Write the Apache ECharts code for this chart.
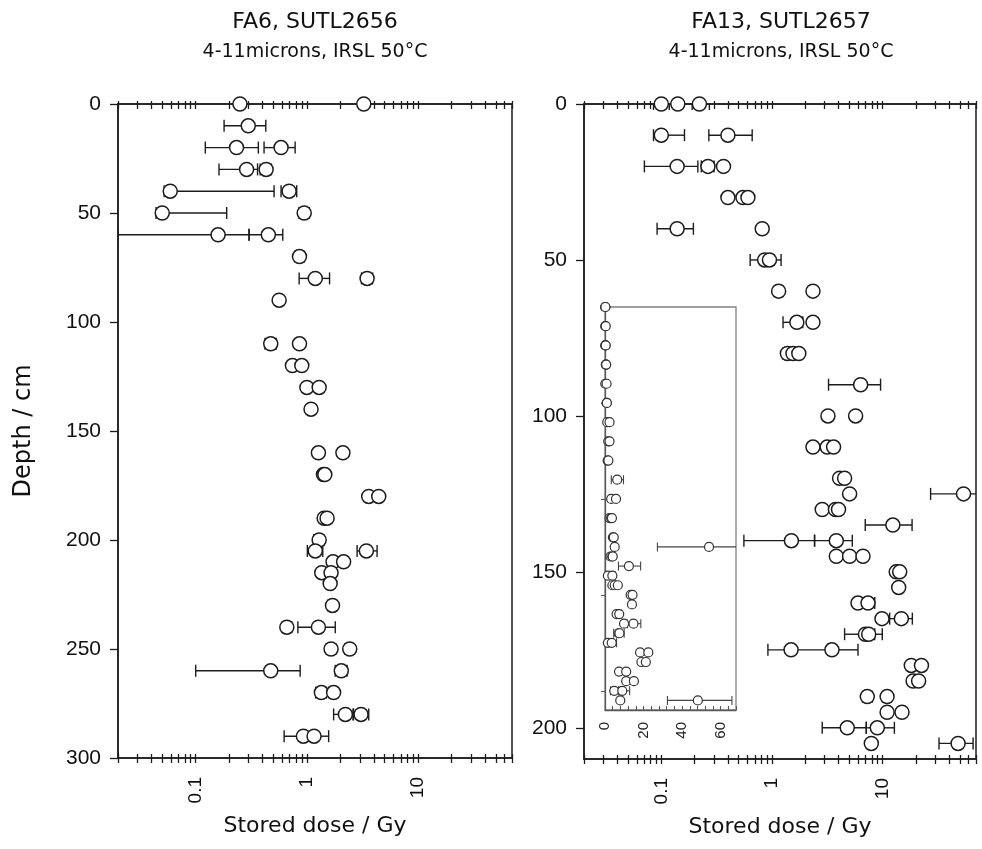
<!DOCTYPE html>
<html>
<head>
<meta charset="utf-8">
<script src="https://cdn.jsdelivr.net/npm/echarts@6/dist/echarts.min.js"></script>
<style>html,body{margin:0;padding:0;background:#fff}#c{width:982px;height:849px}</style>
</head>
<body>
<div id="c"></div>
<script>
// ---------- FA6, SUTL2656 (left panel) ----------
const leftDepth = [0,0,10,20,20,30,30,40,40,50,50,60,60,70,80,80,90,110,110,120,120,130,130,140,160,160,170,170,180,180,190,190,200,205,205,210,210,215,215,220,230,240,240,250,250,260,260,270,270,280,280,290,290];
const leftDose = [0.25,3.25,0.297,0.233,0.586,0.287,0.43,0.059,0.692,0.05,0.946,0.159,0.45,0.858,1.19,3.48,0.563,0.473,0.858,0.741,0.9,1.0,1.29,1.09,1.27,2.11,1.41,1.45,3.6,4.43,1.43,1.52,1.29,1.19,3.43,1.72,2.14,1.36,1.65,1.62,1.70,0.66,1.27,1.65,2.43,0.473,2.04,1.35,1.74,2.22,3.07,0.93,1.16];
const leftErrLow = [null,null,0.18,0.122,0.412,0.162,0.38,0.052,0.586,0.044,0.85,0.02,0.302,0.78,0.852,3.1,null,0.42,null,null,null,null,null,null,null,null,null,null,null,null,null,null,1.15,1.01,2.83,null,null,null,null,null,1.55,0.6,0.83,1.5,2.2,0.1,1.8,1.2,1.58,1.74,2.63,0.624,1.0];
const leftErrHigh = [null,null,0.427,0.366,0.784,0.36,0.48,0.507,0.81,0.19,1.05,0.302,0.607,0.95,1.6,3.9,null,0.53,null,null,null,null,null,null,null,null,null,null,null,null,null,null,1.42,1.39,4.28,null,null,null,null,null,1.85,0.73,1.8,1.82,2.65,0.87,2.3,1.5,1.9,2.6,3.6,1.25,1.57];

// ---------- FA13, SUTL2657 (right panel, also the linear inset) ----------
const rightDepth = [0,0,0,10,10,20,20,20,30,30,30,40,40,50,50,60,60,70,70,80,80,80,90,100,100,110,110,110,120,120,125,125,130,130,130,135,140,140,145,145,145,150,150,155,160,160,165,165,170,170,175,175,180,180,185,185,190,190,195,195,200,200,205,205];
const rightDose = [0.1,0.141,0.221,0.1,0.4,0.139,0.264,0.365,0.4,0.547,0.607,0.139,0.817,0.86,0.95,1.15,2.35,1.68,2.35,1.38,1.55,1.75,6.34,3.21,5.71,2.35,3.16,3.61,4.09,4.54,5.04,54,2.85,3.75,4.0,12.4,1.5,3.82,3.82,5.04,6.66,13.3,14.3,14.0,6.0,7.39,9.89,14.8,7.0,7.5,1.49,3.49,18.2,22.5,18.9,21.2,7.28,11.0,11.0,15.0,4.8,8.97,7.92,48.2];
const rightErrLow = [0.085,null,0.19,0.085,0.269,0.0703,0.23,null,null,null,null,0.0916,null,0.636,0.85,1.05,null,1.26,null,1.25,null,null,3.25,null,null,null,null,null,null,null,null,27.2,null,null,null,6.98,0.558,2.43,null,null,null,null,null,null,null,6.3,null,11.6,4.54,6.5,0.92,3.2,null,null,null,null,6.6,10.0,null,null,2.85,7.13,null,32.4];
const rightErrHigh = [0.118,null,0.272,0.162,0.663,0.214,0.3,null,null,null,null,0.195,null,1.05,1.21,1.26,null,1.9,null,1.5,null,null,9.6,null,null,null,null,null,null,null,null,80,null,null,null,18.5,2.43,5.33,null,null,null,null,null,null,null,8.5,null,18.6,8.5,9.95,3.2,6.0,null,null,null,null,8.1,12.0,null,null,7.13,12.8,null,65.9];

// ---------- axis ticks / labels ----------
const doseLabelTicks = [0.1, 1, 10];
const doseAllTicks = [0.02,0.03,0.04,0.05,0.06,0.07,0.08,0.09,0.1,0.2,0.3,0.4,0.5,0.6,0.7,0.8,0.9,1,2,3,4,5,6,7,8,9,10,20,30,40,50,60,70];
const leftDepthTicks = [0,50,100,150,200,250,300];
const rightDepthTicks = [0,50,100,150,200];
const insetDoseLabels = [0,20,40,60];
const insetDoseTicks = [0,4,8,12,16,20,24,28,32,36,40,44,48,52,56,60,64,68];
const insetDepthTicks = [50,100,150,200];

const titles = ['FA6, SUTL2656', 'FA13, SUTL2657'];
const subtitle = '4-11microns, IRSL 50°C';
const xName = 'Stored dose / Gy';
const yName = 'Depth / cm';

// ---------- styling ----------
const LINE = '#1c1c1c';
const FONT = 'Liberation Sans';
const NAMEFONT = 'DejaVu Sans';
const INSET = '#808080';

function doseAxis(gi, position, inside, len, showLine, withLabels) {
  return {
    gridIndex: gi, type: 'log', logBase: 10, min: 0.02, max: 70, position: position,
    axisLine: {show: showLine, onZero: false, lineStyle: {color: LINE, width: 1.5}},
    axisTick: {show: true, inside: inside, length: len, customValues: doseAllTicks, lineStyle: {color: LINE, width: 1.3}},
    axisLabel: withLabels ? {show: true, customValues: doseLabelTicks, rotate: 90, margin: 19, fontSize: 19,
      fontFamily: FONT, color: '#111', formatter: function (v) { return String(v); }} : {show: false},
    splitLine: {show: false},
    name: withLabels ? xName : '', nameLocation: 'middle', nameGap: 57, nameMoveOverlap: false,
    nameTextStyle: {fontSize: 22, fontFamily: NAMEFONT, color: '#111'}
  };
}

function depthAxis(gi, max, ticks, withName) {
  return {
    gridIndex: gi, type: 'value', inverse: true, min: 0, max: max, position: 'left',
    axisLine: {show: true, onZero: false, lineStyle: {color: LINE, width: 1.5}},
    axisTick: {show: true, inside: false, length: 8, customValues: ticks, lineStyle: {color: LINE, width: 1.3}},
    axisLabel: {customValues: ticks, margin: 17, fontSize: 21, fontFamily: FONT, color: '#111'},
    splitLine: {show: false},
    name: withName ? yName : '', nameLocation: 'middle', nameGap: 82, nameMoveOverlap: false,
    nameTextStyle: {fontSize: 24, fontFamily: NAMEFONT, color: '#111', padding: [0, 0, 0, 0]}
  };
}

function pts(dose, depth) { return dose.map(function (v, i) { return [v, depth[i]]; }); }
function errs(depth, lo, hi) {
  const out = [];
  depth.forEach(function (d, i) { if (lo[i] != null) out.push([lo[i], d, hi[i]]); });
  return out;
}

function errSeries(xi, yi, data, cap, color, width) {
  return {
    type: 'custom', xAxisIndex: xi, yAxisIndex: yi, clip: true, silent: true, z: 2,
    encode: {x: [0, 2], y: 1},
    renderItem: function (params, api) {
      const cs = params.coordSys;
      const a = api.coord([api.value(0), api.value(1)]);
      const b = api.coord([api.value(2), api.value(1)]);
      const x0 = cs.x, x1 = cs.x + cs.width;
      const aIn = a[0] >= x0 - 0.5, bIn = b[0] <= x1 + 0.5;
      const ax = Math.max(a[0], x0), bx = Math.min(b[0], x1);
      const st = {stroke: color, lineWidth: width, fill: null};
      const ch = [{type: 'line', shape: {x1: ax, y1: a[1], x2: bx, y2: b[1]}, style: st}];
      if (aIn) ch.push({type: 'line', shape: {x1: ax, y1: a[1] - cap, x2: ax, y2: a[1] + cap}, style: st});
      if (bIn) ch.push({type: 'line', shape: {x1: bx, y1: b[1] - cap, x2: bx, y2: b[1] + cap}, style: st});
      return {type: 'group', children: ch};
    },
    data: data
  };
}

function ptSeries(xi, yi, data, size, color, width) {
  return {
    type: 'scatter', xAxisIndex: xi, yAxisIndex: yi, symbol: 'circle', symbolSize: size, clip: false, z: 3,
    itemStyle: {color: '#fff', borderColor: color, borderWidth: width, opacity: 1},
    emphasis: {disabled: true}, silent: true,
    data: data
  };
}

const chart = echarts.init(document.getElementById('c'), null, {renderer: 'canvas'});
chart.setOption({
  animation: false,
  backgroundColor: '#fff',
  graphic: [
    {type: 'text', x: 315, y: 11, style: {text: titles[0], fontSize: 22, fontFamily: NAMEFONT, fill: '#111', align: 'center', verticalAlign: 'top'}},
    {type: 'text', x: 315, y: 43, style: {text: subtitle, fontSize: 19, fontFamily: NAMEFONT, fill: '#111', align: 'center', verticalAlign: 'top'}},
    {type: 'text', x: 781, y: 11, style: {text: titles[1], fontSize: 22, fontFamily: NAMEFONT, fill: '#111', align: 'center', verticalAlign: 'top'}},
    {type: 'text', x: 781, y: 43, style: {text: subtitle, fontSize: 19, fontFamily: NAMEFONT, fill: '#111', align: 'center', verticalAlign: 'top'}}
  ],
  grid: [
    {left: 118, top: 104, width: 394, height: 654, show: true, borderColor: LINE, borderWidth: 1.5, backgroundColor: 'transparent', outerBoundsMode: 'none', containLabel: false},
    {left: 584, top: 104, width: 392, height: 655, show: true, borderColor: LINE, borderWidth: 1.5, backgroundColor: 'transparent', outerBoundsMode: 'none', containLabel: false},
    {left: 605, top: 307, width: 131, height: 403, show: true, borderColor: INSET, borderWidth: 1.3, backgroundColor: '#fff', outerBoundsMode: 'none', containLabel: false}
  ],
  xAxis: [
    doseAxis(0, 'bottom', false, 5, true, true),
    doseAxis(0, 'bottom', true, 4, false, false),
    doseAxis(0, 'top', true, 5, true, false),
    doseAxis(0, 'top', false, 3, false, false),
    doseAxis(1, 'bottom', false, 5, true, true),
    doseAxis(1, 'bottom', true, 4, false, false),
    doseAxis(1, 'top', true, 5, true, false),
    doseAxis(1, 'top', false, 3, false, false),
    {
      gridIndex: 2, type: 'value', min: 0, max: 68, position: 'bottom',
      axisLine: {show: true, onZero: false, lineStyle: {color: '#5a5a5a', width: 1.3}},
      axisTick: {show: true, inside: true, length: 4, customValues: insetDoseTicks, lineStyle: {color: '#5a5a5a', width: 1.1}},
      axisLabel: {customValues: insetDoseLabels, rotate: 90, margin: 12, fontSize: 15, fontFamily: FONT, color: '#222'},
      splitLine: {show: false}
    }
  ],
  yAxis: [
    depthAxis(0, 300, leftDepthTicks, true),
    depthAxis(1, 210, rightDepthTicks, false),
    {
      gridIndex: 2, type: 'value', inverse: true, min: 0, max: 210, position: 'left',
      axisLine: {show: true, onZero: false, lineStyle: {color: '#5a5a5a', width: 1.3}},
      axisTick: {show: true, inside: false, length: 4, customValues: insetDepthTicks, lineStyle: {color: '#5a5a5a', width: 1.1}},
      axisLabel: {show: false},
      splitLine: {show: false}
    }
  ],
  series: [
    errSeries(0, 0, errs(leftDepth, leftErrLow, leftErrHigh), 6, LINE, 1.4),
    ptSeries(0, 0, pts(leftDose, leftDepth), 14, LINE, 1.5),
    errSeries(4, 1, errs(rightDepth, rightErrLow, rightErrHigh), 6, LINE, 1.4),
    ptSeries(4, 1, pts(rightDose, rightDepth), 14, LINE, 1.5),
    errSeries(8, 2, errs(rightDepth, rightErrLow, rightErrHigh), 4.5, '#444', 1.1),
    ptSeries(8, 2, pts(rightDose, rightDepth), 9, '#333', 1.2)
  ]
});
</script>
</body>
</html>
